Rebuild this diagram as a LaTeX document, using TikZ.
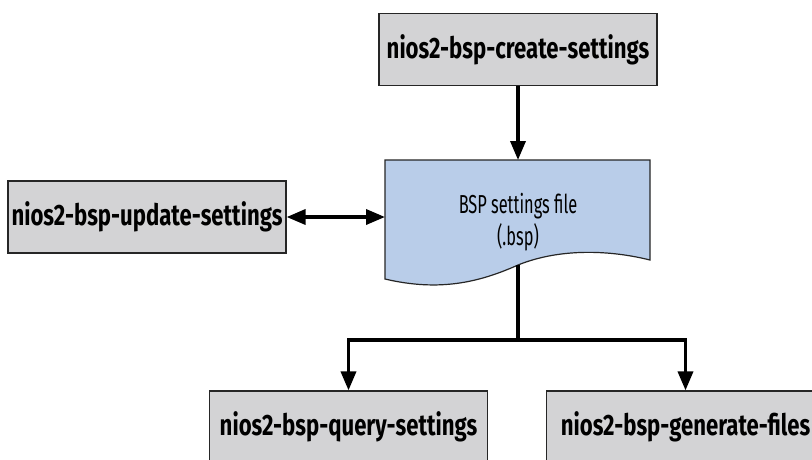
\documentclass[tikz,border=0pt]{standalone}
\usepackage{fontspec}
\newfontfamily\boxfont{Fira Sans}[FakeStretch=0.75]
\newfontfamily\filefont{Fira Sans}[FakeStretch=0.63]
\usetikzlibrary{arrows.meta}
\definecolor{gray1}{HTML}{D3D3D5}
\definecolor{blue1}{HTML}{B9CDE9}
\tikzset{
  toolbox/.style={draw=black!85, line width=1.2pt, fill=gray1, minimum width=278pt, minimum height=72pt, inner sep=0pt, font=\boxfont\bfseries\fontsize{29.5}{34}\selectfont},
  flow/.style={line width=3.5pt, -{Triangle[length=19pt,width=15pt]}},
  dflow/.style={line width=3.5pt, {Triangle[length=19pt,width=15pt]}-{Triangle[length=19pt,width=15pt]}},
}

\begin{document}
\begin{tikzpicture}[x=1pt,y=-1pt]

\clip (0,0) rectangle (812,459);
\fill[white] (0,0) rectangle (812,459);

% tool boxes
\node[toolbox] (create) at (518,49.5) {nios2-bsp-create-settings};
\node[toolbox] (update) at (147,217) {nios2-bsp-update-settings};
\node[toolbox] (query) at (348.5,427) {nios2-bsp-query-settings};
\node[toolbox] (generate) at (685.5,427) {nios2-bsp-generate-files};

% settings file
\draw[line width=1.2pt, draw=black!85, fill=blue1] (385,160) -- (650,160) -- (650,260)
  .. controls (610,250) and (560,248) .. (518,265)
  .. controls (480,282) and (440,292) .. (385,279) -- cycle;
\node[font=\filefont\fontsize{26}{32}\selectfont, align=center] (bspfile) at (518,222) {BSP settings file\\(.bsp)};

\coordinate (filetop) at (518,160);
\coordinate (fileleft) at (385,217);
\coordinate (filebot) at (518,265);
\coordinate (split) at (518,340);

% connectors
\draw[flow] (create.south) -- (filetop);
\draw[dflow] (update.east) -- (fileleft);
\draw[line width=3.5pt] (filebot) -- (split);
\draw[flow] (split) -| (query.north);
\draw[flow] (split) -| (generate.north);

\end{tikzpicture}
\end{document}
